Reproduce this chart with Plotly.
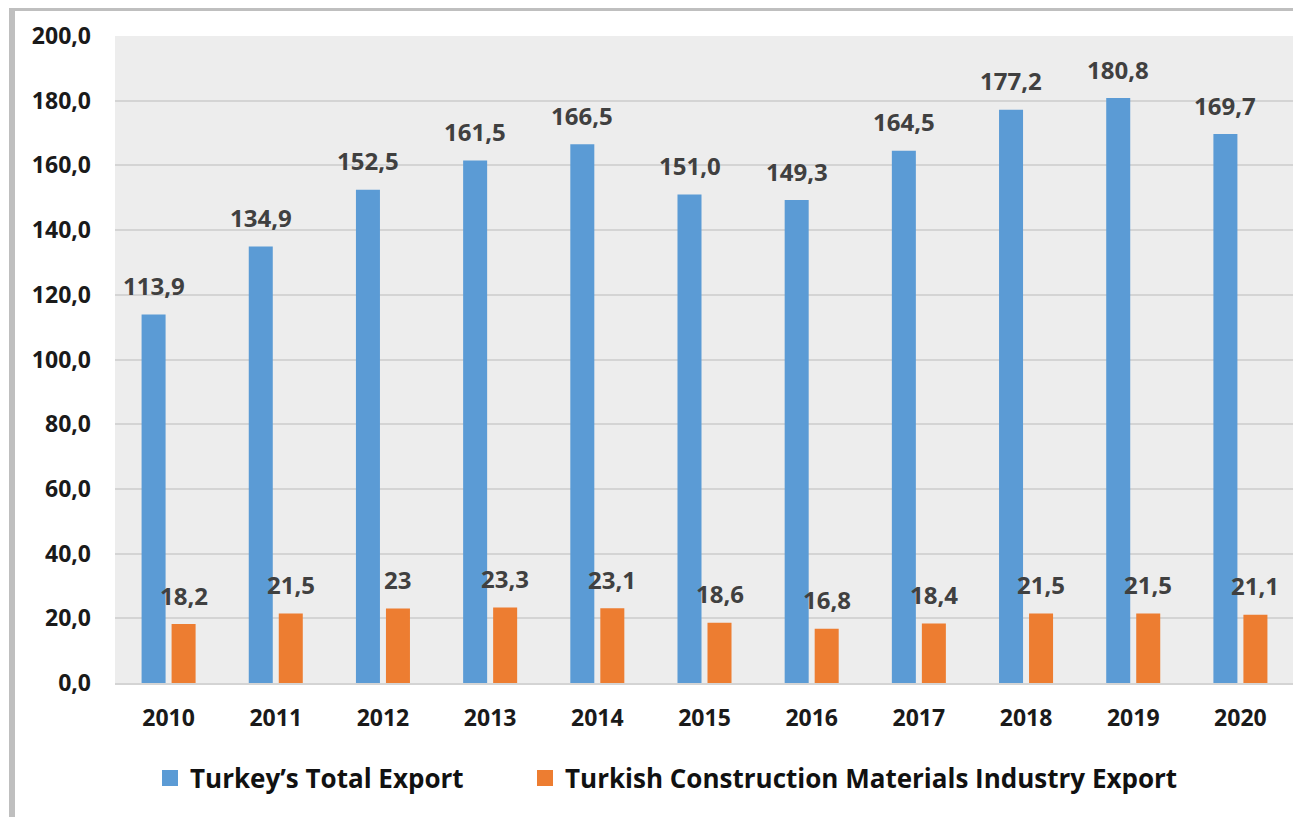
import plotly.graph_objects as go

years = ["2010", "2011", "2012", "2013", "2014", "2015", "2016", "2017", "2018", "2019", "2020"]
total_export = [113.9, 134.9, 152.5, 161.5, 166.5, 151.0, 149.3, 164.5, 177.2, 180.8, 169.7]
construction_export = [18.2, 21.5, 23.0, 23.3, 23.1, 18.6, 16.8, 18.4, 21.5, 21.5, 21.1]
total_labels = ["113,9", "134,9", "152,5", "161,5", "166,5", "151,0", "149,3", "164,5", "177,2", "180,8", "169,7"]
construction_labels = ["18,2", "21,5", "23", "23,3", "23,1", "18,6", "16,8", "18,4", "21,5", "21,5", "21,1"]
y_tickvals = [0, 20, 40, 60, 80, 100, 120, 140, 160, 180, 200]
y_ticktext = ["0,0", "20,0", "40,0", "60,0", "80,0", "100,0", "120,0", "140,0", "160,0", "180,0", "200,0"]
series_names = ["Turkey\u2019s Total Export", "Turkish Construction Materials Industry Export"]

BLUE = "#5B9BD5"
ORANGE = "#ED7D31"
FONT = "Open Sans"

OFF = 8  # default body margin of the html page
W, H = 1301 - OFF, 817 - OFF
ML, MR, MT, MB = 107, 7, 28, 134
PW = W - ML - MR
PH = H - MT - MB


def px_x(page_px):
    return (page_px - OFF - ML) / PW


def px_y(page_py):
    return (H - MB - (page_py - OFF)) / PH


fig = go.Figure()
fig.add_trace(go.Bar(x=years, y=total_export, marker=dict(color=BLUE, line=dict(width=0)),
                     showlegend=False, name=series_names[0]))
fig.add_trace(go.Bar(x=years, y=construction_export, marker=dict(color=ORANGE, line=dict(width=0)),
                     showlegend=False, name=series_names[1]))

# legend entries (two separate legends for exact placement)
for name, col, lg in zip(series_names, [BLUE, ORANGE], ["legend", "legend2"]):
    fig.add_trace(go.Scatter(x=[years[0]], y=[None], mode="markers", name=name, legend=lg,
                             marker=dict(symbol="square", size=18, color=col)))

annotations = []
for i, yr in enumerate(years):
    annotations.append(dict(x=i, y=total_export[i], text=total_labels[i], xref="x", yref="y",
                            xshift=-15, yshift=29, yanchor="middle", showarrow=False,
                            font=dict(family=FONT, size=24, color="#404040", weight="bold")))
    annotations.append(dict(x=i, y=construction_export[i], text=construction_labels[i], xref="x", yref="y",
                            xshift=15, yshift=29, yanchor="middle", showarrow=False,
                            font=dict(family=FONT, size=24, color="#404040", weight="bold")))

shapes = [
    dict(type="line", xref="paper", yref="paper", x0=px_x(12), x1=px_x(12), y0=px_y(4), y1=px_y(830),
         line=dict(color="#BFBFBF", width=6)),
    dict(type="line", xref="paper", yref="paper", x0=px_x(9), x1=px_x(1310), y0=px_y(7.5), y1=px_y(7.5),
         line=dict(color="#BFBFBF", width=7)),
]

legend_common = dict(orientation="h", xanchor="left", yanchor="middle", y=px_y(778),
                     font=dict(family=FONT, size=26, color="#111111", weight="bold"),
                     itemwidth=30, bgcolor="rgba(0,0,0,0)")

fig.update_layout(
    width=W, height=H,
    margin=dict(l=ML, r=MR, t=MT, b=MB),
    paper_bgcolor="white",
    plot_bgcolor="#EDEDED",
    barmode="group",
    bargap=0.44,
    bargroupgap=0.2,
    annotations=annotations,
    shapes=shapes,
    font=dict(family=FONT, color="#1A1A1A"),
    legend=dict(x=px_x(150), **legend_common),
    legend2=dict(x=px_x(525), **legend_common),
    xaxis=dict(type="category", range=[-0.5, len(years) - 0.5], showgrid=False, ticks="",
               tickfont=dict(family=FONT, size=23, color="#1A1A1A", weight="bold"),
               ticklabelstandoff=13, showline=True, linecolor="#D4D4D4", linewidth=2),
    yaxis=dict(range=[0, 200], tickvals=y_tickvals, ticktext=y_ticktext, showgrid=True,
               gridcolor="#D4D4D4", gridwidth=2, zeroline=False, ticks="",
               tickfont=dict(family=FONT, size=23, color="#1A1A1A", weight="bold"),
               ticklabelstandoff=23),
)

fig.write_html("out.html")
